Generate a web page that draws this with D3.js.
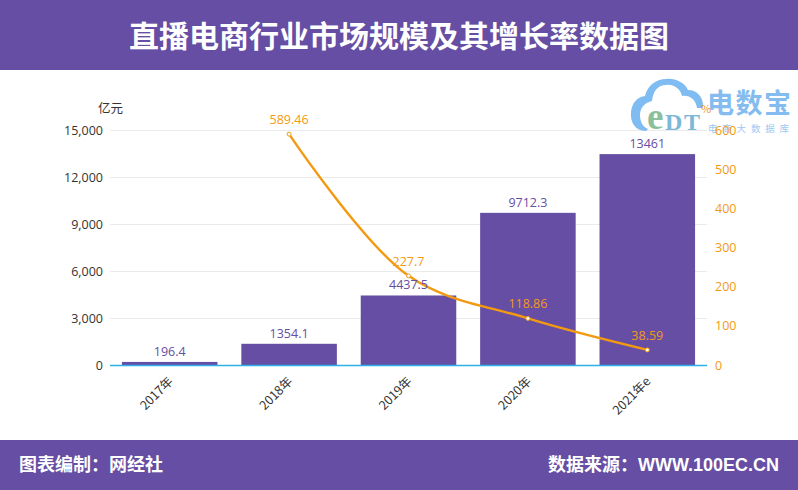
<!DOCTYPE html>
<html><head><meta charset="utf-8">
<script src="https://cdn.jsdelivr.net/npm/d3@7/dist/d3.min.js"></script>
<style>html,body{margin:0;padding:0;background:#fff}svg{display:block}text{font-family:"Noto Sans CJK SC","Noto Sans",sans-serif}</style>
</head><body><svg id="c" width="798" height="490"></svg>
<script>
const categories=["2017年","2018年","2019年","2020年","2021年e"];
const marketSize=[196.4,1354.1,4437.5,9712.3,13461];
const marketLabels=["196.4","1354.1","4437.5","9712.3","13461"];
const growthRate=[null,589.46,227.7,118.86,38.59];
const growthLabels=["","589.46","227.7","118.86","38.59"];
const leftTicks=[0,3000,6000,9000,12000,15000];
const rightTicks=[0,100,200,300,400,500,600];
const titleText="直播电商行业市场规模及其增长率数据图";
const footLeft="图表编制：网经社";
const footRight="数据来源：WWW.100EC.CN";
const purple="#654ea3",orange="#f39a12",numFont='"Open Sans","Noto Sans",sans-serif';
const svg=d3.select("#c");
const x=d3.scaleBand().domain(categories).range([110,707]).paddingInner(0.2).paddingOuter(0.1);
const y=d3.scaleLinear().domain([0,15000]).range([365,130]);
const yR=d3.scaleLinear().domain([0,600]).range([365,130]);
// header/footer
svg.append("rect").attr("width",798).attr("height",70).attr("fill",purple);
svg.append("rect").attr("y",440).attr("width",798).attr("height",50).attr("fill",purple);
svg.append("text").attr("x",399).attr("y",47).attr("text-anchor","middle").attr("fill","#fff").attr("font-size",30).attr("font-weight",700).text(titleText);
svg.append("text").attr("x",19).attr("y",471).attr("fill","#fff").attr("font-size",18).attr("font-weight",700).text(footLeft);
svg.append("text").attr("x",779).attr("y",471).attr("text-anchor","end").attr("fill","#fff").attr("font-size",18).attr("font-weight",700).style("font-family",'"Liberation Sans","Noto Sans CJK SC",sans-serif').text(footRight);
// grid
svg.append("g").selectAll("line").data(leftTicks.slice(1)).join("line").attr("x1",110).attr("x2",707).attr("y1",d=>y(d)+.5).attr("y2",d=>y(d)+.5).attr("stroke","#eaeaea");
// bars
svg.append("g").selectAll("rect").data(marketSize).join("rect").attr("x",(d,i)=>x(categories[i])).attr("width",x.bandwidth()).attr("y",d=>y(d)).attr("height",d=>y(0)-y(d)).attr("fill",purple);
// axes
const gl=svg.append("g").attr("transform","translate(110,0)").call(d3.axisLeft(y).tickValues(leftTicks).tickFormat(d3.format(",")).tickSize(0).tickPadding(7));
gl.select(".domain").remove();
gl.selectAll("text").attr("fill","#333").attr("font-size",12.5).style("font-family",numFont);
// logo (watermark) — beneath the right-axis labels
const logo=svg.append("g");
logo.append("path").attr("d","M646 131C635 131 630 122 631 112C632 102 638 97 645 96C647 86 656 79 666 79C675 78 684 82 688 90C697 90 704 97 703 108L697 108C696 100 690 95 682 96C680 88 673 84 666 85C658 85 653 91 652 101C644 103 640 108 640 115C640 122 643 127 648 129Z").attr("fill","#7fbcf2");
logo.append("text").attr("x",647).attr("y",129).attr("fill","#8dbf9c").attr("font-size",37).attr("font-weight",700).style("font-family",'"Liberation Serif",serif').text("e");
logo.append("text").attr("x",665).attr("y",130).attr("fill","#7db8d8").attr("font-size",24).attr("font-weight",700).style("font-family",'"Liberation Serif",serif').attr("textLength",35).text("DT");
logo.append("text").attr("x",707).attr("y",113).attr("fill","#84bcf0").attr("font-size",27).attr("font-weight",700).attr("textLength",84).text("电数宝");
logo.append("text").attr("x",708).attr("y",132).attr("fill","#9cc8f2").attr("font-size",9.5).attr("textLength",81).text("电商大数据库");
const gr=svg.append("g").attr("transform","translate(707,0)").call(d3.axisRight(yR).tickValues(rightTicks).tickSize(0).tickPadding(8));
gr.select(".domain").remove();
gr.selectAll("text").attr("fill",orange).attr("font-size",12.5).style("font-family",numFont);
svg.append("line").attr("x1",110).attr("x2",707).attr("y1",365.5).attr("y2",365.5).attr("stroke","#2fb0ea").attr("stroke-width",1.5);
svg.append("g").selectAll("text").data(categories).join("text").attr("text-anchor","end").attr("fill","#333").attr("font-size",12.5)
 .attr("transform",d=>`translate(${x(d)+x.bandwidth()/2-2},${376}) rotate(-45)`).attr("dy","0.7em").text(d=>d);
svg.append("text").attr("x",98).attr("y",113).attr("fill","#333").attr("font-size",12.5).text("亿元");
svg.append("text").attr("x",701).attr("y",113).attr("fill",orange).attr("font-size",11).text("%");
// line
const pts=growthRate.map((v,i)=>({v,c:categories[i],l:growthLabels[i]})).filter(d=>d.v!==null);
const cx=d=>x(d.c)+x.bandwidth()/2;
svg.append("path").attr("d",d3.line().x(cx).y(d=>yR(d.v)).curve(d3.curveCatmullRom.alpha(0.5))(pts)).attr("fill","none").attr("stroke",orange).attr("stroke-width",2.4);
svg.append("g").selectAll("circle").data(pts).join("circle").attr("cx",cx).attr("cy",d=>yR(d.v)).attr("r",2).attr("fill","#fff").attr("stroke",orange).attr("stroke-width",1);
// labels
svg.append("g").selectAll("text").data(marketSize).join("text").attr("x",(d,i)=>x(categories[i])+x.bandwidth()/2).attr("y",d=>y(d)-6).attr("text-anchor","middle").attr("fill",purple).attr("font-size",12.5).style("font-family",numFont).text((d,i)=>marketLabels[i]);
svg.append("g").selectAll("text").data(pts).join("text").attr("x",cx).attr("y",d=>yR(d.v)-10).attr("text-anchor","middle").attr("fill",orange).attr("font-size",12.5).style("font-family",numFont).text(d=>d.l);
</script></body></html>
